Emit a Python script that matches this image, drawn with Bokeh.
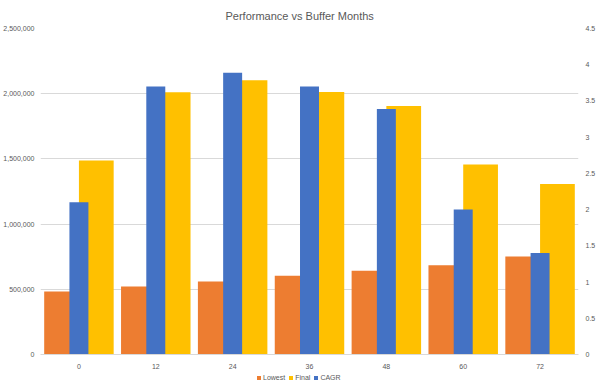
from bokeh.plotting import figure
from bokeh.layouts import column
from bokeh.models import (ColumnDataSource, FactorRange, Range1d, LinearAxis, FixedTicker,
                          NumeralTickFormatter, Legend, LegendItem)
from bokeh.transform import dodge
from bokeh.embed import file_html
from bokeh.resources import INLINE

months = ["0", "12", "24", "36", "48", "60", "72"]
lowest = [483000, 522000, 560000, 604000, 642000, 685000, 752000]
final = [1487000, 2011000, 2103000, 2013000, 1906000, 1458000, 1307000]
cagr = [2.10, 3.70, 3.89, 3.70, 3.39, 2.00, 1.40]
series_names = ["Lowest", "Final", "CAGR"]

left_ticks = [0, 500000, 1000000, 1500000, 2000000, 2500000]
right_ticks = [0, 0.5, 1, 1.5, 2, 2.5, 3, 3.5, 4, 4.5]
right_labels = ["0", "0.5", "1", "1.5", "2", "2.5", "3", "3.5", "4", "4.5"]

ORANGE = "#ED7D31"
YELLOW = "#FFC000"
BLUE = "#4472C4"
TXT = "#595959"
GRID = "#D9D9D9"
FONT = "Liberation Sans"
W = 598

src = ColumnDataSource(dict(month=months, lowest=lowest, final=final, cagr=cagr))

p = figure(width=W, height=371, output_backend="svg", toolbar_location=None,
           x_range=FactorRange(factors=months, range_padding=0),
           y_range=Range1d(0, 2500000),
           title="Performance vs Buffer Months",
           min_border_left=0, min_border_right=0, min_border_bottom=0, min_border_top=28)
p.extra_y_ranges = {"cagr": Range1d(0, 4.5)}

p.title.align = "left"
p.title.text_font = FONT
p.title.text_font_size = "11px"
p.title.text_font_style = "normal"
p.title.text_color = TXT
p.title.offset = 185
p.title.standoff = 13

p.outline_line_color = None
p.xgrid.grid_line_color = None
p.ygrid.grid_line_color = GRID
p.ygrid.grid_line_width = 1


def style_axis(ax, standoff):
    ax.major_tick_line_color = None
    ax.minor_tick_line_color = None
    ax.major_tick_out = 0
    ax.major_tick_in = 0
    ax.minor_tick_out = 0
    ax.minor_tick_in = 0
    ax.major_label_text_font = FONT
    ax.major_label_text_font_size = "7px"
    ax.major_label_text_color = TXT
    ax.major_label_standoff = standoff


yl = p.yaxis[0]
yl.ticker = FixedTicker(ticks=left_ticks)
yl.formatter = NumeralTickFormatter(format="0,0")
yl.axis_line_color = None
style_axis(yl, 6)

yr = LinearAxis(y_range_name="cagr", ticker=FixedTicker(ticks=right_ticks),
                major_label_overrides={t: l for t, l in zip(right_ticks, right_labels)})
yr.axis_line_color = None
style_axis(yr, 7)
p.add_layout(yr, "right")

xa = p.xaxis[0]
xa.axis_line_color = GRID
style_axis(xa, 9)

p.vbar(x=dodge("month", -0.226, range=p.x_range), top="lowest", width=0.452,
       source=src, fill_color=ORANGE, line_color=None)
p.vbar(x=dodge("month", 0.226, range=p.x_range), top="final", width=0.452,
       source=src, fill_color=YELLOW, line_color=None)
p.vbar(x=dodge("month", 0.0, range=p.x_range), top="cagr", width=0.247,
       source=src, fill_color=BLUE, line_color=None, y_range_name="cagr")

# legend strip under the chart (hidden renderers only provide the legend swatches)
lg = figure(width=W, height=13, output_backend="svg", toolbar_location=None,
            x_range=FactorRange(factors=months), y_range=Range1d(0, 1),
            x_axis_type=None, y_axis_type=None,
            min_border_left=0, min_border_right=0, min_border_bottom=0, min_border_top=0)
lg.outline_line_color = None
lg.xgrid.visible = False
lg.ygrid.visible = False
items = []
for name, key, col in zip(series_names, ["lowest", "final", "cagr"], [ORANGE, YELLOW, BLUE]):
    r = lg.vbar(x="month", top=key, width=0.5, source=src, fill_color=col,
                line_color=None, visible=False)
    items.append(LegendItem(label=name, renderers=[r]))
legend = Legend(items=items, orientation="horizontal", location=(216, 3),
                glyph_width=5, glyph_height=5, label_height=7, label_width=10,
                label_standoff=2, spacing=3, padding=0, margin=0,
                label_text_font=FONT, label_text_font_size="7px",
                label_text_color=TXT, border_line_color=None,
                background_fill_alpha=0, inactive_fill_alpha=0)
lg.add_layout(legend, "center")

layout = column(p, lg, spacing=0)
open("out.html", "w").write(file_html(layout, INLINE))
